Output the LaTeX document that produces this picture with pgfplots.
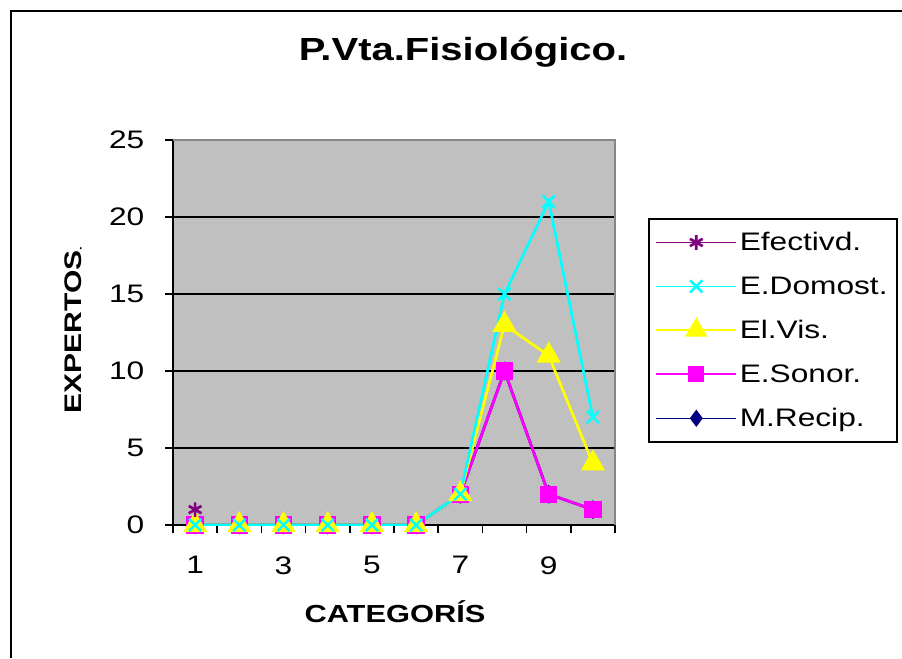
\documentclass[border=0pt]{standalone}
\usepackage{fontspec}
\setmainfont[FakeStretch=1.25]{Liberation Sans}
\usepackage{pgfplots}
\pgfplotsset{compat=1.18}
\definecolor{plotgray}{HTML}{C0C0C0}
\definecolor{cPurple}{HTML}{800080}
\definecolor{cCyan}{HTML}{00FFFF}
\definecolor{cYellow}{HTML}{FFFF00}
\definecolor{cMagenta}{HTML}{FF00FF}
\definecolor{cNavy}{HTML}{000080}
\begin{document}
\begin{tikzpicture}
\path[use as bounding box] (0,0) rectangle (676.5pt,493.5pt);
\draw[line width=1.6pt] (8.25pt,0) -- (8.25pt,485.25pt) -- (676.5pt,485.25pt);
\node[font=\fontsize{24}{27}\selectfont\bfseries] at (347.25pt,454.5pt) {P.Vta.Fisiológico.};
\node[font=\fontsize{18.5}{21}\selectfont\bfseries] at (296.25pt,34.5pt) {CATEGORÍS};
\node[font=\fontsize{18}{20}\selectfont\bfseries, rotate=90] at (55pt,246pt) {EXPERTOS{\fontsize{8}{9}\selectfont.}};
\begin{axis}[
  at={(129.75pt,99.75pt)}, anchor=south west,
  width=331.5pt, height=288.75pt, scale only axis,
  xmin=0.5, xmax=10.5, ymin=0, ymax=25,
  axis background/.style={fill=plotgray},
  axis line style={line width=1.5pt},
  ytick={0,5,...,25},
  ymajorgrids, grid style={black, line width=1.2pt},
  xtick={0.5,1.5,...,10.5}, xticklabels={},
  extra x ticks={1,3,5,7,9}, extra x tick labels={1,3,5,7,9},
  extra x tick style={major tick length=0pt, xticklabel style={yshift=-20pt}},
  tick align=outside, tick pos=left, major tick length=6pt,
  tick style={black, line width=1.2pt},
  /pgf/number format/assume math mode=true,
  tick label style={font=\fontsize{19}{22}\selectfont},
  yticklabel style={xshift=-12pt},
  legend style={at={(1.0747,0.797)}, anchor=north west, draw=black, line width=1.2pt,
    fill=white, font=\fontsize{19}{22}\selectfont, row sep=14pt,
    inner xsep=5pt, inner ysep=8pt},
  legend cell align=left,
  legend image code/.code={\draw[line width=1.2pt, mark repeat=2,mark phase=2] plot coordinates {(0pt,0pt) (30pt,0pt) (60pt,0pt)};},
  reverse legend,
  every axis plot/.append style={line width=2pt},
]
\addplot[color=cNavy, mark=diamond*, mark size=5.5pt, mark options={solid, fill=cNavy}] coordinates {
  (1,0) (2,0) (3,0) (4,0) (5,0) (6,0) (7,2) (8,10) (9,2) (10,1)};
\addlegendentry{M.Recip.}
\addplot[color=cMagenta, mark=square*, mark size=5.5pt, mark options={solid, fill=cMagenta}] coordinates {
  (1,0) (2,0) (3,0) (4,0) (5,0) (6,0) (7,2) (8,10) (9,2) (10,1)};
\addlegendentry{E.Sonor.}
\addplot[color=cYellow, mark=triangle*, mark size=8.5pt, mark options={solid, fill=cYellow}] coordinates {
  (1,0) (2,0) (3,0) (4,0) (5,0) (6,0) (7,2) (8,13) (9,11) (10,4)};
\addlegendentry{El.Vis.}
\addplot[color=cCyan, mark=x, mark size=6.5pt, mark options={solid, line width=1.8pt}] coordinates {
  (1,0) (2,0) (3,0) (4,0) (5,0) (6,0) (7,2) (8,15) (9,21) (10,7)};
\addlegendentry{E.Domost.}
\addplot[color=cPurple, mark=asterisk, mark size=5.5pt, mark options={solid, line width=2pt}] coordinates {
  (1,1)};
\addlegendentry{Efectivd.}
\end{axis}
\draw[plotgray!70!black, line width=1.5pt] (129.75pt,388.5pt) -- (461.25pt,388.5pt) -- (461.25pt,99.75pt);
\end{tikzpicture}
\end{document}
